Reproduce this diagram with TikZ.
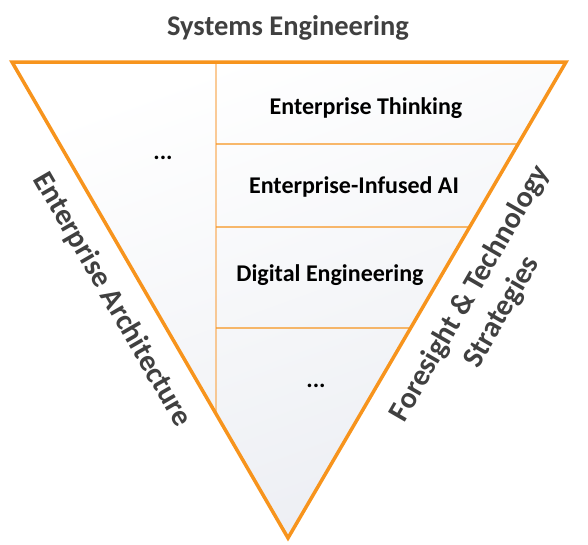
\documentclass[tikz,border=0pt]{standalone}
\usepackage{fontspec}
\setmainfont{Carlito}
\usetikzlibrary{calc}

\definecolor{seorange}{HTML}{F7941D}
\definecolor{selight}{HTML}{F9B060}
\definecolor{segray}{HTML}{404040}
\definecolor{sebottom}{HTML}{ECEEF3}

\begin{document}
\begin{tikzpicture}[x=1pt, y=-1pt,
  layer/.style={font=\fontsize{24}{28}\selectfont\bfseries, text=black},
  side/.style={font=\fontsize{28.5}{37}\selectfont\bfseries, text=segray, align=center},
  slant/.style={side, font=\fontsize{30}{37}\selectfont\bfseries}]
 \useasboundingbox (0,0) rectangle (588,544);

 % Corners of the inverted triangle
 \coordinate (tl) at (12,62);
 \coordinate (tr) at (566,62);
 \coordinate (bt) at (288,538);

 % Fill with a soft gradient
 \shade[top color=white, bottom color=sebottom, shading angle=20] (tl) -- (tr) -- (bt) -- cycle;

 % Separators
 \coordinate (vtop) at (216,62);
 \coordinate (vbot) at (intersection of tl--bt and 216,62--216,540);
 \draw[selight, line width=1.2pt] (vtop) -- (vbot);
 \foreach \y in {144,227,328}{
   \draw[seorange, line width=1.2pt] (216,\y) -- (intersection of tr--bt and 216,\y--560,\y);
 }

 % Outline
 \draw[seorange, line width=3.5pt, line join=miter] (tl) -- (tr) -- (bt) -- cycle;

 % Layers
 \node[layer] (thinking) at (366,108) {Enterprise Thinking};
 \node[layer] (infused) at (354,187) {Enterprise-Infused AI};
 \node[layer] (digital) at (330,275) {Digital Engineering};
 \node[layer] (more) at (316,386) {...};
 \node[layer] (other) at (163,158) {...};

 % Labels round the triangle
 \node[side] (syseng) at (288,28) {Systems Engineering};
 \node[slant, rotate=-60] (entarch) at (112,300) {Enterprise Architecture};
 \node[slant, rotate=60] (foresight) at (486,303) {Foresight \& Technology\\Strategies};
\end{tikzpicture}
\end{document}
